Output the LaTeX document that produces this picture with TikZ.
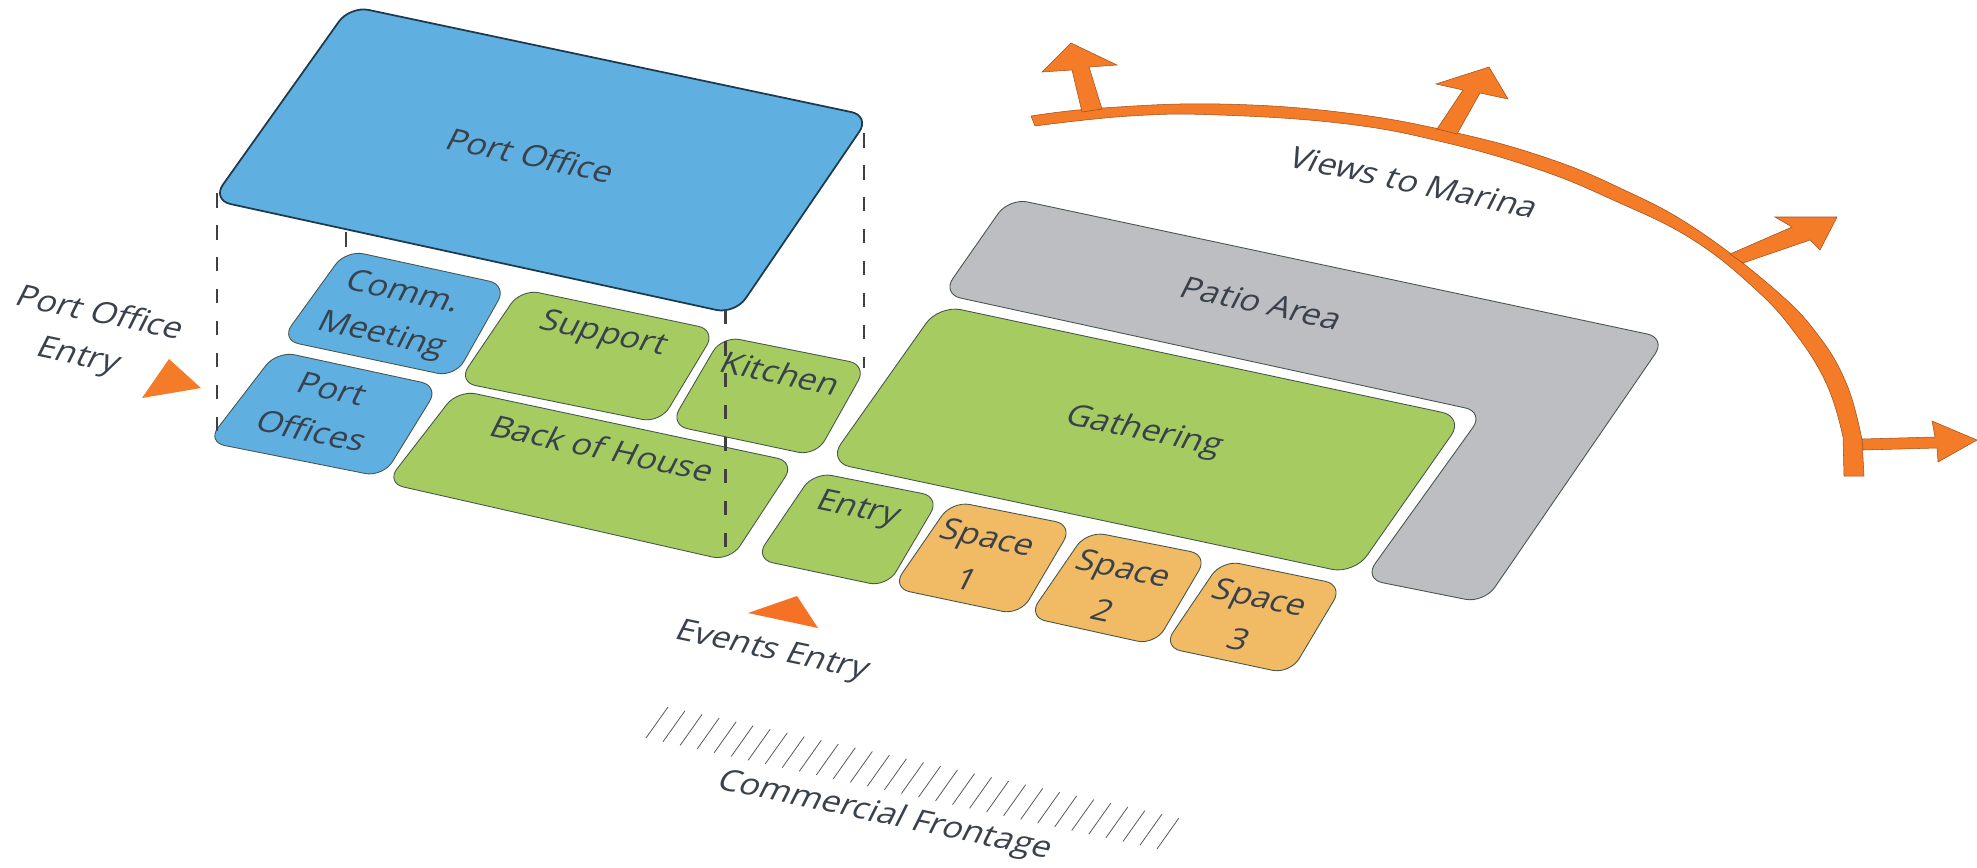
\documentclass[tikz,border=0pt]{standalone}
\usepackage{fontspec}
\setmainfont{Open Sans}
\definecolor{blu}{HTML}{5FB0E0}
\definecolor{grn}{HTML}{A6CC61}
\definecolor{gry}{HTML}{BDBEC1}
\definecolor{ylw}{HTML}{F0BB64}
\definecolor{org}{HTML}{F47B28}
\definecolor{txt}{HTML}{39414C}
\definecolor{edg}{HTML}{46564C}
\definecolor{poe}{HTML}{1E3A4E}
\tikzset{
  zone/.style={draw=edg,line width=0.5pt,rounded corners=0.36cm},
  lbl/.style={text=txt,font=\fontsize{16}{24}\selectfont,align=center,inner sep=0pt,cm={1.18,-0.25,0.5,1,(0,0)}},
  arrowfill/.style={fill=org,draw=org!65!black,line width=0.3pt,line join=miter},
  guide/.style={draw=black!75,line width=1.5pt,dash pattern=on 0.29cm off 0.35cm}
}
\begin{document}
\begin{tikzpicture}[x=0.02cm,y=-0.02cm]
\useasboundingbox (0,0) rectangle (1977,867);
\fill[white] (0,0) rectangle (1977,867);
% zones
\path[zone,fill=gry,rounded corners=0.38cm] (1009,198)--(1666,338)--(1484,603)--(1364,579)--(1484,412)--(942,294)--cycle;
\path[zone,fill=grn,rounded corners=0.45cm] (939,305)--(1464,417)--(1354,574)--(828,462)--cycle;
\path[zone,fill=blu] (346,250)--(507,285)--(455,377)--(281,340)--cycle;
\path[zone,fill=blu] (277,351)--(439,386)--(383,477)--(207,442)--cycle;
\path[zone,fill=grn] (521,289)--(716,330)--(660,423)--(458,382)--cycle;
\path[zone,fill=grn] (722,336)--(867,365)--(816,456)--(670,425)--cycle;
\path[zone,fill=grn] (458,390)--(795,462)--(730,561)--(386,483)--cycle;
\path[zone,fill=grn] (814,472)--(940,497)--(887,587)--(755,559)--cycle;
\path[zone,fill=ylw] (952,501)--(1073,525)--(1020,615)--(892,588)--cycle;
\path[zone,fill=ylw] (1087,531)--(1208,555)--(1155,645)--(1028,617)--cycle;
\path[zone,fill=ylw] (1222,560)--(1343,585)--(1290,674)--(1163,647)--cycle;
\path[zone,fill=blu,draw=poe,line width=1pt,rounded corners=0.38cm] (350,6)--(870,116)--(735,314)--(212,200)--cycle;
% guides
\coordinate (g1a) at (217,193); \coordinate (g1b) at (217,433);
\coordinate (g2a) at (346,232); \coordinate (g2b) at (346,257);
\coordinate (g3a) at (725.5,309); \coordinate (g3b) at (725.5,552);
\coordinate (g4a) at (864,133); \coordinate (g4b) at (864,368);
\draw[guide] (g1a)--(g1b);
\draw[guide] (g2a)--(g2b);
\draw[guide] (g3a)--(g3b);
\draw[guide] (g4a)--(g4b);
% entry triangles
\fill[org] (169,359)--(201,388)--(142,398)--cycle;
\fill[org!92!red] (797,596)--(818,628)--(748,613)--cycle;
% views arc and arrows
\path[arrowfill] plot[smooth,tension=0.7] coordinates {(1031,116)(1102,108)(1220,104)(1347,113)(1457,133)(1547,158)(1620,188)(1693,227)(1773,288)(1818,335)(1847,385)(1862,440)}
 -- (1864,476) -- (1844,476) -- plot[smooth,tension=0.7] coordinates {(1843,437)(1827,385)(1795,333)(1753,287)(1690,238)(1613,200)(1540,170)(1447,143)(1347,124)(1220,115)(1130,116)(1035,126)} -- cycle;
\path[arrowfill] (1082,112)--(1072,70)--(1042,72)--(1071,43)--(1117,65)--(1089,67)--(1102,109)--cycle;
\path[arrowfill] (1437,129)--(1463,90)--(1436,84)--(1489,67)--(1508,99)--(1480,93)--(1457,134)--cycle;
\path[arrowfill] (1730,254)--(1792,227)--(1775,217)--(1837,217)--(1820,250)--(1810,240)--(1743,263)--cycle;
\path[arrowfill] (1862,439)--(1935,437)--(1932,421)--(1977,440)--(1938,462)--(1937,448)--(1863,450)--cycle;
% frontage hatch
\foreach \i in {0,...,30}{
  \draw[black!65,line width=0.45pt] ({668+\i*17.03},{707+\i*3.7})--({646+\i*17.03},{738+\i*3.7});
}
% labels
\node[lbl] (tPO) at (531,155) {Port Office};
\node[lbl] (tCM) at (392,315) {Comm.\\Meeting};
\node[lbl] (tPS) at (322,410) {Port\\Offices};
\node[lbl] (tSU) at (603,335) {Support};
\node[lbl] (tKI) at (781,373) {Kitchen};
\node[lbl] (tBH) at (603,448) {Back of House};
\node[lbl] (tGA) at (1144,432) {Gathering};
\node[lbl] (tEN) at (858,510) {Entry};
\node[lbl] (tS1) at (978,558) {Space\\1};
\node[lbl] (tS2) at (1114,589) {Space\\2};
\node[lbl] (tS3) at (1250,618) {Space\\3};
\node[lbl] (tPA) at (1262,303) {Patio Area};
\node[lbl] (tVM) at (1414,182) {Views to Marina};
\node[lbl] (tPE) at (89,336) {Port Office\\Entry};
\node[lbl] (tEE) at (772,652) {Events Entry};
\node[lbl] (tCF) at (885,816) {Commercial Frontage};
\end{tikzpicture}
\end{document}
